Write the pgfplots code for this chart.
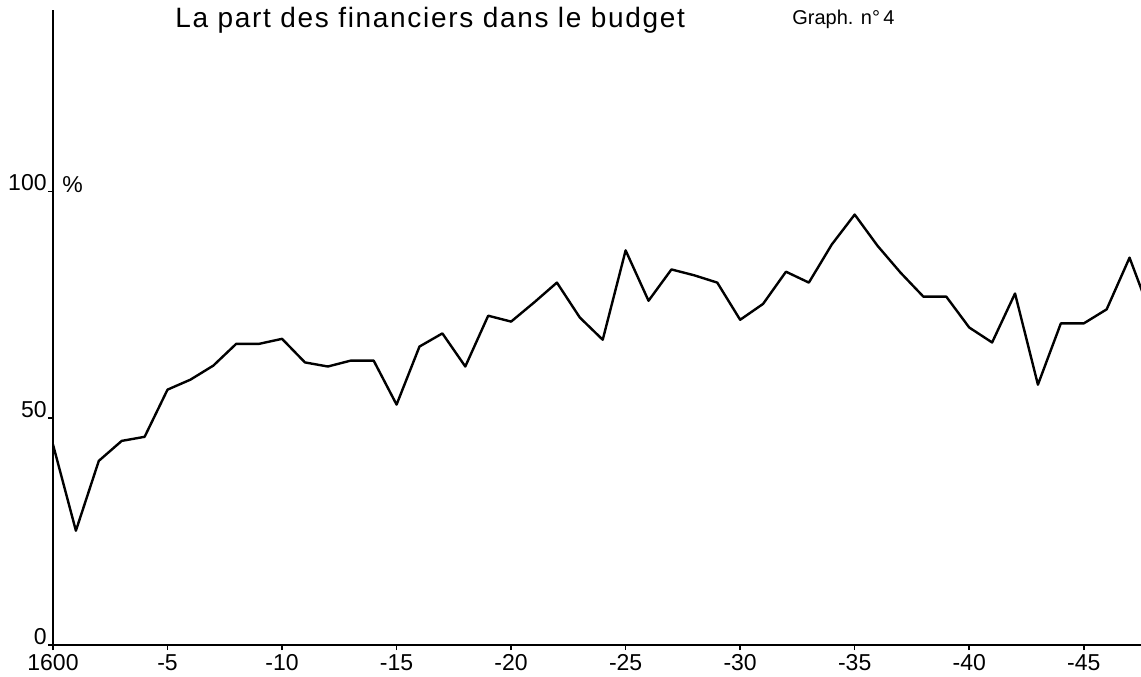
\documentclass[border=0pt]{standalone}
\usepackage{fontspec}
\setmainfont{Liberation Sans}
\usepackage{pgfplots}
\pgfplotsset{compat=1.18}

\pgfplotstableread{
year share
1600 44.2
1601 25.2
1602 40.6
1603 45.0
1604 45.9
1605 56.3
1606 58.5
1607 61.6
1608 66.4
1609 66.4
1610 67.5
1611 62.3
1612 61.4
1613 62.7
1614 62.7
1615 53.0
1616 65.8
1617 68.7
1618 61.4
1619 72.6
1620 71.3
1621 75.5
1622 79.9
1623 72.2
1624 67.3
1625 87.0
1626 75.9
1627 82.8
1628 81.5
1629 79.9
1630 71.7
1631 75.2
1632 82.3
1633 79.9
1634 88.3
1635 94.9
1636 88.0
1637 82.1
1638 76.8
1639 76.8
1640 70.0
1641 66.7
1642 77.5
1643 57.4
1644 70.9
1645 70.9
1646 74.0
1647 85.4
1648 71.9
}\budget

\begin{document}
\begin{tikzpicture}
\begin{axis}[
    scale only axis,
    width=544pt, height=317.5pt,
    xmin=1600, xmax=1647.5,
    ymin=0, ymax=140,
    axis x line=bottom, axis y line=left,
    axis line style={-, line width=1pt},
    tick align=outside,
    major tick length=2.5pt,
    tick style={line width=0.8pt, black},
    xtick={1600,1605,...,1645},
    xticklabels={1600,-5,-10,-15,-20,-25,-30,-35,-40,-45},
    ytick={0,50,100},
    /pgf/number format/assume math mode=true,
    tick label style={font=\fontsize{11.5}{12}\selectfont},
    xticklabel style={anchor=north, inner sep=0pt, yshift=-2pt},
    yticklabel style={anchor=south east, inner sep=0pt, xshift=-0.5pt},
    clip=true,
]
\addplot[black, line width=1.2pt, line join=round] table[x=year, y=share] {\budget};
\coordinate (O) at (rel axis cs:0,0);
\coordinate (T) at (rel axis cs:1,1);
\end{axis}
\node[anchor=base west, inner sep=0pt, font=\fontsize{14}{16}\selectfont\addfontfeature{LetterSpace=6}]
    at ([xshift=61pt, yshift=308.5pt]O) {La part des financiers dans le budget};
\node[anchor=base west, inner sep=0pt, font=\fontsize{10}{12}\selectfont]
    at ([xshift=369.5pt, yshift=310pt]O) {Graph. n°\,4};
\node[anchor=base west, inner sep=0pt, font=\fontsize{11.5}{12}\selectfont]
    at ([xshift=4.5pt, yshift=226pt]O) {\%};
\pgfresetboundingbox
\path ([xshift=-26.5pt, yshift=-15.5pt]O) rectangle ([yshift=5pt]T);
\end{tikzpicture}
\end{document}
